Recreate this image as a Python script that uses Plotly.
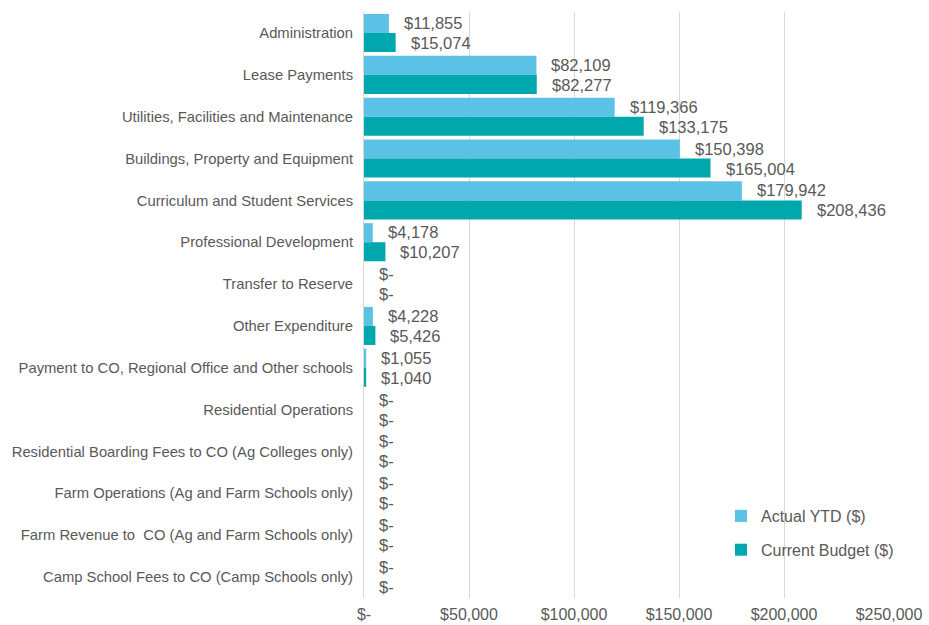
import plotly.graph_objects as go

categories = [
    "Administration",
    "Lease Payments",
    "Utilities, Facilities and Maintenance",
    "Buildings, Property and Equipment",
    "Curriculum and Student Services",
    "Professional Development",
    "Transfer to Reserve",
    "Other Expenditure",
    "Payment to CO, Regional Office and Other schools",
    "Residential Operations",
    "Residential Boarding Fees to CO (Ag Colleges only)",
    "Farm Operations (Ag and Farm Schools only)",
    "Farm Revenue to  CO (Ag and Farm Schools only)",
    "Camp School Fees to CO (Camp Schools only)",
]
actual_ytd = [11855, 82109, 119366, 150398, 179942, 4178, 0, 4228, 1055, 0, 0, 0, 0, 0]
current_budget = [15074, 82277, 133175, 165004, 208436, 10207, 0, 5426, 1040, 0, 0, 0, 0, 0]
x_ticks = [0, 50000, 100000, 150000, 200000, 250000]

LIGHT = "#5BC2E6"
TEAL = "#00A8AD"
GREY = "#595959"
FONT = "Liberation Sans, Arial, sans-serif"


def money(v):
    return "$-" if v == 0 else "${:,}".format(v)


fig = go.Figure()
fig.add_trace(go.Bar(
    y=categories, x=actual_ytd, orientation="h", name="Actual YTD ($)",
    marker=dict(color=LIGHT, line=dict(width=0)), legendgroup="a",
    hoverinfo="skip",
))
fig.add_trace(go.Bar(
    y=categories, x=current_budget, orientation="h", name="Current Budget ($)",
    marker=dict(color=TEAL, line=dict(width=0)), legendgroup="b",
    hoverinfo="skip",
))

# value labels just right of each bar end
annotations = []
for cat, a, b in zip(categories, actual_ytd, current_budget):
    for val, dy in ((a, 10), (b, -10)):
        annotations.append(dict(
            x=val, y=cat, xref="x", yref="y", text=money(val),
            showarrow=False, xanchor="left", yanchor="middle",
            xshift=13, yshift=dy,
            font=dict(family=FONT, size=16.5, color=GREY),
        ))

fig.update_layout(
    width=929, height=625,
    margin=dict(l=364, r=40, t=12, b=27, autoexpand=False),
    paper_bgcolor="white", plot_bgcolor="white",
    barmode="group", bargap=0.09, bargroupgap=0,
    font=dict(family=FONT, color=GREY),
    annotations=annotations,
    showlegend=True,
    legend=dict(
        x=(721 - 364) / (889 - 364), xanchor="left",
        y=(598 - 499) / (598 - 12), yanchor="top",
        bgcolor="rgba(0,0,0,0)", traceorder="grouped", tracegroupgap=10,
        font=dict(family=FONT, size=16, color=GREY),
        itemwidth=30,
    ),
    xaxis=dict(
        range=[0, 250000], tickvals=x_ticks,
        ticktext=[money(v) for v in x_ticks],
        showgrid=True, gridcolor="#D9D9D9", gridwidth=1,
        zeroline=False, showline=False, ticks="",
        ticklabelstandoff=5, automargin=False,
        tickfont=dict(family=FONT, size=16, color=GREY),
        fixedrange=True,
    ),
    yaxis=dict(
        autorange="reversed", showgrid=False, zeroline=False,
        showline=True, linecolor="#D9D9D9", linewidth=1,
        ticks="", ticklabelstandoff=7, automargin=False,
        tickfont=dict(family=FONT, size=14.8, color=GREY),
        fixedrange=True,
    ),
)

fig.write_html("out.html")
